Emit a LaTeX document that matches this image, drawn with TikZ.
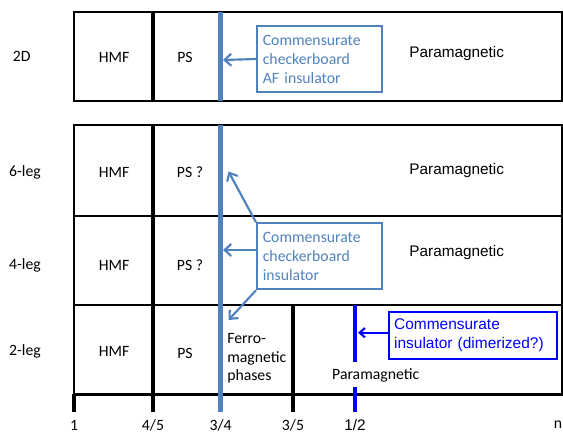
\documentclass[tikz,border=0pt]{standalone}
\usepackage{fontspec}
\setmainfont{Carlito}
\newfontfamily\arialf{Liberation Sans}
\usetikzlibrary{arrows.meta}
\definecolor{sblue}{HTML}{4F81BD}
\definecolor{bblue}{HTML}{0000FF}
\begin{document}
\begin{tikzpicture}[x=0.75pt,y=-0.75pt,
  frame/.style={draw=black,line width=1.6pt},
  divider/.style={draw=black,line width=2.3pt},
  sline/.style={draw=sblue,line width=3.5pt},
  bline/.style={draw=bblue,line width=2.8pt},
  lbl/.style={inner sep=0pt,font=\fontsize{11.8}{14}\selectfont},
  albl/.style={inner sep=0pt,font=\arialf\fontsize{11.5}{13}\selectfont},
  sbox/.style={draw=sblue,line width=1.5pt,text=sblue,align=left,
    minimum width=93.75pt,minimum height=49.5pt,text width=85pt,inner xsep=4pt,
    font=\fontsize{11.8}{14.25}\selectfont},
  bbox/.style={draw=bblue,line width=1.5pt,text=bblue,align=left,
    minimum width=125.8pt,minimum height=35.7pt,text width=118pt,inner xsep=4pt,
    font=\arialf\fontsize{11.6}{14.25}\selectfont},
  sarr/.style={draw=sblue,line width=1.6pt,-{Straight Barb[length=5pt,width=9pt,line width=1.6pt]}},
  barr/.style={draw=bblue,line width=1.6pt,-{Straight Barb[length=4pt,width=7pt,line width=1.6pt]}}
]
\useasboundingbox (0,0) rectangle (563,433);

% frames
\draw[frame] (74,12) rectangle (562,101);
\draw[frame] (74,125) rectangle (562,394.5);
\draw[frame] (74,216) -- (562,216);
\draw[frame] (74,305) -- (562,305);

% dividers and ticks
\draw[divider] (153,12) -- (153,101);
\draw[divider] (153,125) -- (153,412);
\draw[divider] (74,394) -- (74,412);
\draw[divider] (293,305) -- (293,412);

% 3/4 line
\draw[sline] (220.7,12) -- (220.7,101);
\draw[sline] (220.7,125) -- (220.7,412);
% 1/2 line
\draw[bline] (355,305) -- (355,362);
\draw[bline] (355,387) -- (355,412);

% arrow targets
\coordinate (t2d) at (223,60);
\coordinate (t6) at (228.5,171.5);
\coordinate (t4) at (223,250);
\coordinate (t2) at (228.5,320);
\coordinate (thalf) at (358,332.7);

% row labels
\node[lbl] (l2d) at (21.7,56) {2D};
\node[lbl] (l6) at (25,172) {6-leg};
\node[lbl] (l4) at (25,265) {4-leg};
\node[lbl] (l2) at (25,351) {2-leg};

\node[lbl] (h2d) at (114,57) {HMF};
\node[lbl] (h6) at (114,172) {HMF};
\node[lbl] (h4) at (114,265) {HMF};
\node[lbl] (h2) at (114,351) {HMF};

\node[lbl] (p2d) at (185,57) {PS};
\node[lbl] (p6) at (190,172) {PS ?};
\node[lbl] (p4) at (190,265) {PS ?};
\node[lbl] (p2) at (185,353) {PS};

\node[albl] (m2d) at (456.7,53.5) {Paramagnetic};
\node[albl] (m6) at (456.7,171) {Paramagnetic};
\node[albl] (m4) at (456.7,253) {Paramagnetic};
\node[lbl] (m2) at (375.7,375) {Paramagnetic};

\node[lbl,align=left,anchor=west] (ferro) at (227,358.5) {Ferro-\\magnetic\\phases};

% blue boxes
\node[sbox] (b2d) at (319.5,59) {Commensurate\\checkerboard\\AF insulator};
\node[sbox] (bleg) at (319.5,256.3) {Commensurate\\checkerboard\\insulator};
\node[bbox] (bdim) at (472.8,335.5) {Commensurate\\insulator (dimerized?)};

% arrows
\draw[sarr] (b2d.west) -- (t2d);
\draw[sarr] (bleg.north west) -- (t6);
\draw[sarr] (bleg.west |- t4) -- (t4);
\draw[sarr] (bleg.south west) -- (t2);
\draw[barr] (bdim.west |- thalf) -- (thalf);

% axis labels
\node[lbl] (x1) at (74,425) {1};
\node[lbl] (x45) at (153,425) {4/5};
\node[lbl] (x34) at (220.7,425) {3/4};
\node[lbl] (x35) at (293,425) {3/5};
\node[albl] (x12) at (355,425) {1/2};
\node[lbl,anchor=east] (xn) at (562.5,425) {n};
\end{tikzpicture}
\end{document}
